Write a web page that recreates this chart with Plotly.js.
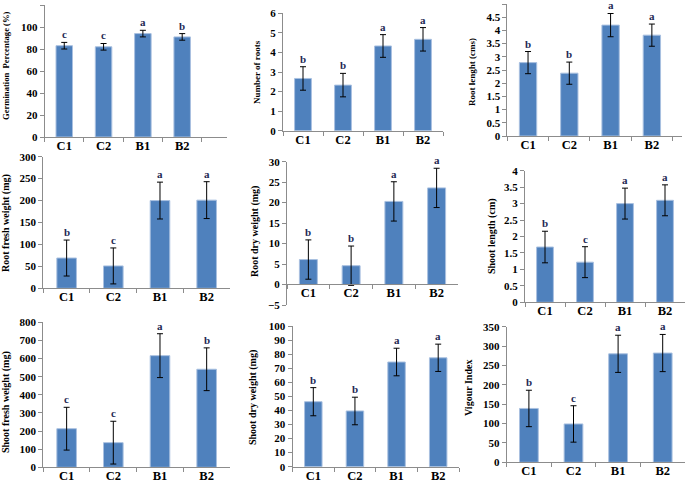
<!DOCTYPE html>
<html>
<head>
<meta charset="utf-8">
<script src="https://cdn.plot.ly/plotly-3.0.1.min.js"></script>
<style>
  html, body { margin: 0; padding: 0; background: #fff; }
  #chart { width: 685px; height: 482px; }
</style>
</head>
<body>
<div id="chart"></div>
<script>
// treatments
const categories = ['C1', 'C2', 'B1', 'B2'];

// means, error (SD) and significance letters
const germination = [83, 82, 94, 91];
const germinationErr = [3, 3, 3, 3];
const germinationLetters = ['c', 'c', 'a', 'b'];

const rootNumber = [2.67, 2.33, 4.33, 4.67];
const rootNumberErr = [0.6, 0.6, 0.58, 0.6];
const rootNumberLetters = ['b', 'b', 'a', 'a'];

const rootLength = [2.78, 2.38, 4.2, 3.82];
const rootLengthErr = [0.42, 0.42, 0.44, 0.42];
const rootLengthLetters = ['b', 'b', 'a', 'a'];

const rootFresh = [69, 51, 200, 201];
const rootFreshErr = [41, 41, 42, 42];
const rootFreshLetters = ['b', 'c', 'a', 'a'];

const rootDry = [6.1, 4.6, 20.3, 23.6];
const rootDryErr = [4.8, 4.8, 4.8, 4.8];
const rootDryLetters = ['b', 'b', 'a', 'a'];

const shootLength = [1.68, 1.22, 3.0, 3.1];
const shootLengthErr = [0.48, 0.47, 0.47, 0.47];
const shootLengthLetters = ['b', 'c', 'a', 'a'];

const shootFresh = [213, 136, 616, 541];
const shootFreshErr = [118, 118, 121, 118];
const shootFreshLetters = ['c', 'c', 'a', 'b'];

const shootDry = [46.2, 39.6, 74.4, 77.4];
const shootDryErr = [10, 9.8, 9.8, 9.7];
const shootDryLetters = ['b', 'b', 'a', 'a'];

const vigour = [139, 99, 280, 282];
const vigourErr = [47, 47, 48, 48];
const vigourLetters = ['b', 'c', 'a', 'a'];

const W = 685, H = 482;
const FONT = 'Liberation Serif, Times New Roman, serif';

// panel placement in pixels: x0,x1 (plot), y0 top, y1 bottom, title position/size
const panels = [
  { title: 'Germination  Percentage (%)', y: germination, e: germinationErr, l: germinationLetters,
    x0: 44.6, x1: 227, xr: [-0.5, 4.14], y0: 5, y1: 137, yr: [0, 120], dt: 20, tx: 6, ty: 66, fs: 8.6 },
  { title: 'Number of roots', y: rootNumber, e: rootNumberErr, l: rootNumberLetters,
    x0: 283, x1: 443, xr: [-0.5, 3.5], y0: 13.3, y1: 130.7, yr: [0, 6], dt: 1, tx: 257, ty: 72, fs: 9 },
  { title: 'Root lenght (cms)', y: rootLength, e: rootLengthErr, l: rootLengthLetters,
    x0: 507.4, x1: 682, xr: [-0.5, 3.73], y0: 4, y1: 136, yr: [0, 5], dt: 0.5, tx: 472, ty: 72, fs: 9 },
  { title: 'Root fresh weight (mg)', y: rootFresh, e: rootFreshErr, l: rootFreshLetters,
    x0: 43.3, x1: 230, xr: [-0.5, 3.5], y0: 156.7, y1: 288.3, yr: [0, 300], dt: 50, tx: 6, ty: 223, fs: 10 },
  { title: 'Root dry weight (mg)', y: rootDry, e: rootDryErr, l: rootDryLetters,
    x0: 287, x1: 458, xr: [-0.5, 3.5], y0: 161.7, y1: 305, yr: [-5, 30], dt: 5, tx: 255, ty: 232, fs: 10, xAt: 284 },
  { title: 'Shoot length (cm)', y: shootLength, e: shootLengthErr, l: shootLengthLetters,
    x0: 525, x1: 685, xr: [-0.5, 3.5], y0: 170.7, y1: 302.3, yr: [0, 4], dt: 0.5, tx: 492, ty: 236, fs: 10 },
  { title: 'Shoot fresh weight (mg)', y: shootFresh, e: shootFreshErr, l: shootFreshLetters,
    x0: 43.3, x1: 230, xr: [-0.5, 3.5], y0: 322.3, y1: 467.3, yr: [0, 800], dt: 100, tx: 6, ty: 402, fs: 10 },
  { title: 'Shoot dry weight (mg)', y: shootDry, e: shootDryErr, l: shootDryLetters,
    x0: 292.5, x1: 459, xr: [-0.5, 3.5], y0: 326, y1: 466.7, yr: [0, 100], dt: 10, tx: 253, ty: 398, fs: 10 },
  { title: 'Vigour Index', y: vigour, e: vigourErr, l: vigourLetters,
    x0: 506.6, x1: 685, xr: [-0.5, 3.5], y0: 326.7, y1: 462.3, yr: [0, 350], dt: 50, tx: 468, ty: 388, fs: 10 }
];

const data = [];
const layout = {
  width: W, height: H,
  margin: { l: 0, r: 0, t: 0, b: 0 },
  paper_bgcolor: '#fff', plot_bgcolor: '#fff',
  showlegend: false,
  font: { family: FONT, color: '#000', weight: 'bold' },
  annotations: []
};

panels.forEach((p, i) => {
  const n = i === 0 ? '' : String(i + 1);
  const xa = 'x' + n, ya = 'y' + n;

  data.push({
    type: 'bar', x: categories, y: p.y, xaxis: xa, yaxis: ya,
    width: 0.42,
    marker: { color: '#4F81BD', line: { color: '#A9C0E0', width: 1 } },
    error_y: { type: 'data', array: p.e, visible: true, color: '#000', thickness: 1, width: 3 },
    hoverinfo: 'skip'
  });

  const xaxis = {
    domain: [p.x0 / W, p.x1 / W], range: p.xr, type: 'category',
    showline: true, linecolor: '#8c8c8c', linewidth: 1,
    ticks: 'outside', tickson: 'boundaries', ticklen: 4, tickcolor: '#8c8c8c',
    ticklabelstandoff: -3,
    showgrid: false, zeroline: false, fixedrange: true,
    tickfont: { family: FONT, size: 12.5, color: '#000', weight: 'bold' }
  };
  if (p.xAt !== undefined) {
    xaxis.anchor = 'free';
    xaxis.position = 1 - p.xAt / H;
  } else {
    xaxis.anchor = ya;
  }
  layout['xaxis' + n] = xaxis;

  layout['yaxis' + n] = {
    domain: [1 - p.y1 / H, 1 - p.y0 / H], range: p.yr, anchor: xa,
    dtick: p.dt, tick0: 0,
    showline: true, linecolor: '#8c8c8c', linewidth: 1,
    ticks: 'outside', ticklen: 4, tickcolor: '#8c8c8c',
    showgrid: false, zeroline: false, fixedrange: true,
    tickfont: { family: FONT, size: 11, color: '#000', weight: 'bold' }
  };

  // y-axis title
  layout.annotations.push({
    xref: 'paper', yref: 'paper', x: p.tx / W, y: 1 - p.ty / H,
    xanchor: 'center', yanchor: 'middle', textangle: -90, showarrow: false,
    text: p.title, font: { family: FONT, size: p.fs, color: '#000', weight: 'bold' }
  });

  // significance letters above the error bars
  categories.forEach((c, k) => {
    layout.annotations.push({
      xref: xa, yref: ya, x: c, y: p.y[k] + p.e[k],
      xanchor: 'center', yanchor: 'bottom', yshift: 0, showarrow: false,
      text: p.l[k], font: { family: FONT, size: 11, color: '#1F2A55', weight: 'bold' }
    });
  });
});

Plotly.newPlot('chart', data, layout, { staticPlot: true, displayModeBar: false });
</script>
</body>
</html>
